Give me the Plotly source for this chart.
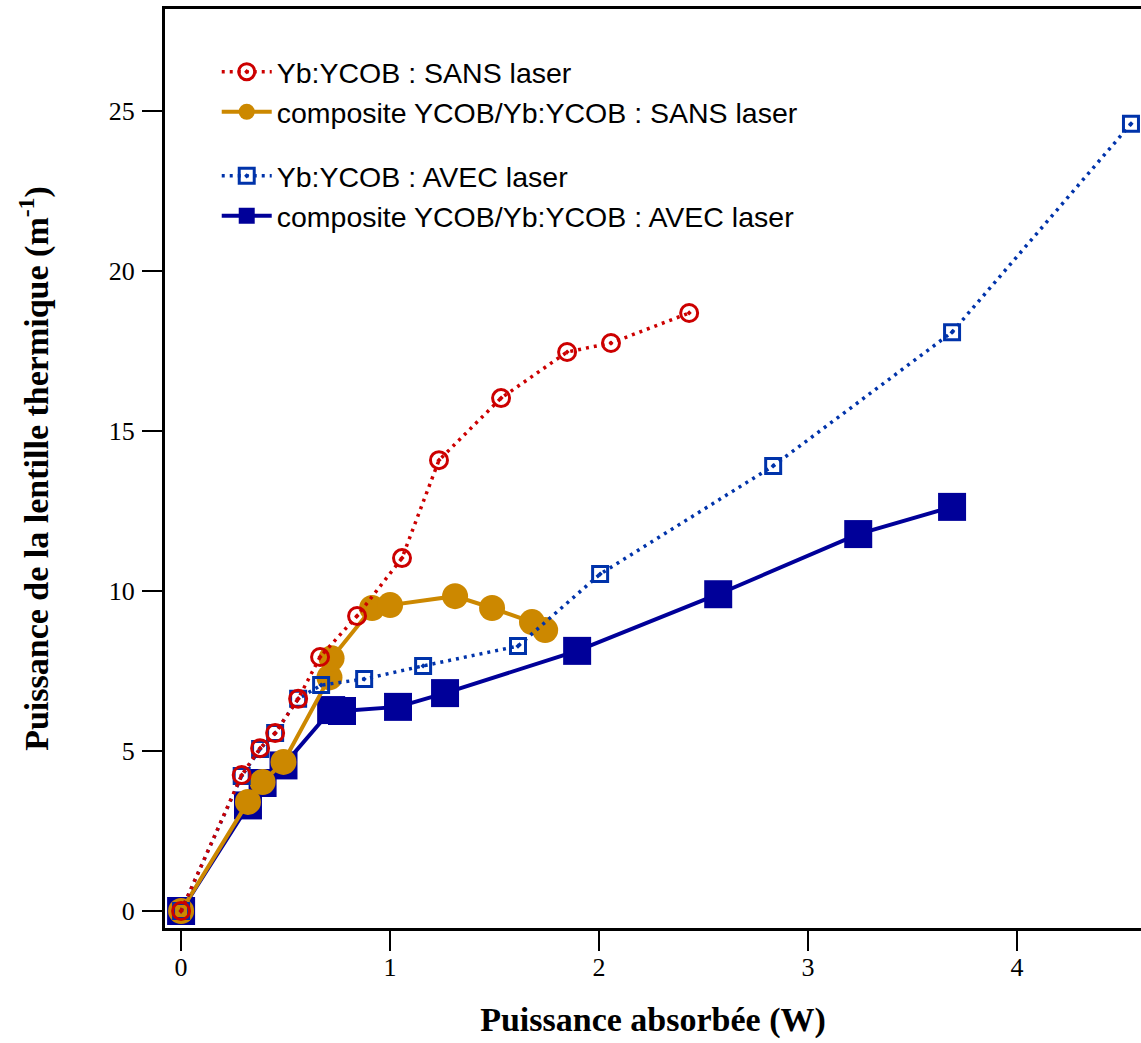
import plotly.graph_objects as go

# Yb:YCOB : SANS laser
yb_sans_x = [0, 0.29, 0.378, 0.45, 0.56, 0.665, 0.842, 1.057, 1.234, 1.531, 1.847, 2.057, 2.431]
yb_sans_y = [0, 4.25, 5.09, 5.56, 6.63, 7.94, 9.22, 11.03, 14.09, 16.03, 17.47, 17.75, 18.69]

# composite YCOB/Yb:YCOB : SANS laser
comp_sans_x = [0, 0.32, 0.39, 0.49, 0.71, 0.72, 0.914, 1.0, 1.311, 1.488, 1.679, 1.742]
comp_sans_y = [0, 3.41, 4.03, 4.66, 7.3, 7.9, 9.47, 9.56, 9.84, 9.47, 9.03, 8.78]

# Yb:YCOB : AVEC laser
yb_avec_x = [0, 0.29, 0.378, 0.45, 0.56, 0.67, 0.876, 1.158, 1.612, 2.005, 2.833, 3.689, 4.545]
yb_avec_y = [0, 4.22, 5.06, 5.56, 6.63, 7.06, 7.25, 7.66, 8.28, 10.53, 13.91, 18.09, 24.6]

# composite YCOB/Yb:YCOB : AVEC laser
comp_avec_x = [0, 0.32, 0.39, 0.49, 0.718, 0.77, 1.038, 1.263, 1.895, 2.57, 3.24, 3.689]
comp_avec_y = [0, 3.3, 4.0, 4.55, 6.28, 6.25, 6.38, 6.81, 8.13, 9.9, 11.78, 12.63]

x_ticks = [0, 1, 2, 3, 4]
y_ticks = [0, 5, 10, 15, 20, 25]

RED = "#cc0000"
ORANGE = "#cc8800"
BLUE = "#0033aa"
NAVY = "#000099"

fig = go.Figure()

fig.add_trace(go.Scatter(
    x=comp_avec_x, y=comp_avec_y, mode="lines+markers",
    name="composite YCOB/Yb:YCOB : AVEC laser",
    line=dict(color=NAVY, width=4),
    marker=dict(symbol="square", size=28, color=NAVY),
    legendgroup="avec", legendrank=4,
))
fig.add_trace(go.Scatter(
    x=comp_sans_x, y=comp_sans_y, mode="lines+markers",
    name="composite YCOB/Yb:YCOB : SANS laser",
    line=dict(color=ORANGE, width=4),
    marker=dict(symbol="circle", size=26, color=ORANGE),
    legendgroup="sans", legendrank=2,
))
fig.add_trace(go.Scatter(
    x=yb_avec_x, y=yb_avec_y, mode="lines+markers",
    name="Yb:YCOB : AVEC laser",
    line=dict(color=BLUE, width=3.5, dash="3px,5px"),
    marker=dict(symbol="square-open-dot", size=15, color=BLUE, line=dict(width=3, color=BLUE)),
    legendgroup="avec", legendrank=3,
))
fig.add_trace(go.Scatter(
    x=yb_sans_x, y=yb_sans_y, mode="lines+markers",
    name="Yb:YCOB : SANS laser",
    line=dict(color=RED, width=3.5, dash="3px,5px"),
    marker=dict(symbol="circle-open-dot", size=17, color=RED, line=dict(width=3, color=RED)),
    legendgroup="sans", legendrank=1,
))

axis_font = dict(family="Liberation Serif", size=26, color="black")
title_font = dict(family="Liberation Serif", size=34, color="black")

fig.update_layout(
    width=1141, height=1043,
    margin=dict(l=165, r=0, t=9, b=115),
    paper_bgcolor="white", plot_bgcolor="white",
    showlegend=True,
    legend=dict(
        x=0.053, y=0.959, xanchor="left", yanchor="top",
        font=dict(family="Liberation Sans", size=28.5, color="black"),
        bgcolor="rgba(0,0,0,0)", traceorder="grouped", tracegroupgap=24,
        itemwidth=50,
    ),
    xaxis=dict(
        range=[-0.077, 4.593], tickvals=x_ticks, ticktext=[str(v) for v in x_ticks],
        showgrid=False, zeroline=False, showline=True, linecolor="black", linewidth=3,
        mirror=True, ticks="outside", ticklen=20, tickwidth=2, tickcolor="black",
        tickfont=axis_font, ticklabelstandoff=-6,
        title=dict(text="<b>Puissance absorbée (W)</b>", font=title_font, standoff=26),
    ),
    yaxis=dict(
        range=[-0.531, 28.19], tickvals=y_ticks, ticktext=[str(v) for v in y_ticks],
        showgrid=False, zeroline=False, showline=True, linecolor="black", linewidth=3,
        mirror=False, ticks="outside", ticklen=20, tickwidth=2, tickcolor="black",
        tickfont=axis_font, ticklabelstandoff=2,
        title=dict(text="<b>Puissance de la lentille thermique (m<sup>-1</sup>)</b>", font=title_font, standoff=50),
    ),
)

fig.write_html("out.html", config={"displayModeBar": False},
               post_script="document.body.style.margin='0';")
